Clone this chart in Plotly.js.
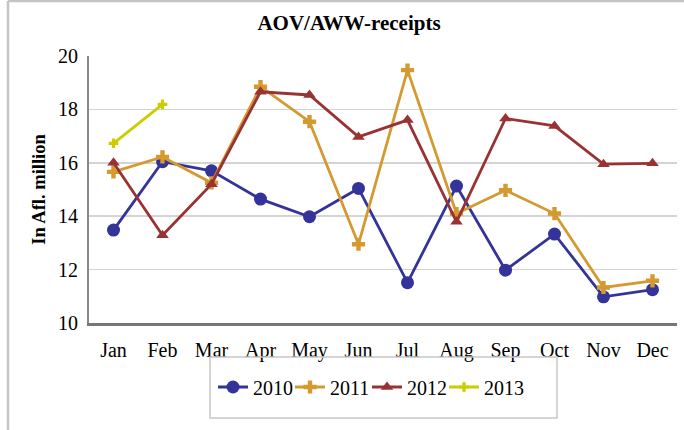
<!DOCTYPE html>
<html>
<head>
<meta charset="utf-8">
<script src="https://cdn.plot.ly/plotly-3.0.1.min.js"></script>
<style>html,body{margin:0;padding:0;background:#fff;}#chart{width:684px;height:430px;}</style>
</head>
<body>
<div id="chart"></div>
<script>
const months = ["Jan","Feb","Mar","Apr","May","Jun","Jul","Aug","Sep","Oct","Nov","Dec"];
const y2010 = [13.48,16.04,15.70,14.64,13.98,15.04,11.51,15.13,11.98,13.33,10.98,11.25];
const y2011 = [15.66,16.22,15.25,18.85,17.54,12.95,19.47,14.10,14.97,14.10,11.33,11.58];
const y2012 = [16.00,13.29,15.20,18.66,18.54,16.97,17.60,13.79,17.66,17.38,15.95,15.98];
const y2013 = [16.73,18.19];
const seriesNames = ["2010","2011","2012","2013"];
const yTicks = [10,12,14,16,18,20];

const serif = "Liberation Serif, Times New Roman, serif";
const traces = [
  {x: months, y: y2010, name: seriesNames[0], mode: "lines+markers", legend: "legend",
   line: {color: "#333399", width: 2.8}, marker: {symbol: "circle", size: 13, color: "#333399"}},
  {x: months, y: y2011, name: seriesNames[1], mode: "lines+markers", legend: "legend2",
   line: {color: "#d49a30", width: 2.8}, marker: {symbol: "cross", size: 11, color: "#d49a30"}},
  {x: months, y: y2012, name: seriesNames[2], mode: "lines+markers", legend: "legend3",
   line: {color: "#993333", width: 2.8}, marker: {symbol: "triangle-up", size: 11, color: "#993333"}},
  {x: months.slice(0, y2013.length), y: y2013, name: seriesNames[3], mode: "lines+markers", legend: "legend4",
   line: {color: "#cccc00", width: 2.8}, marker: {symbol: "cross", size: 8, color: "#cccc00"}}
];

const L = 89, R = 7, T = 56, B = 107;
const W = 684 - L - R, H = 430 - T - B;
const px = v => (v - L) / W;
const py = v => (430 - B - v) / H;

function leg(startX) {
  return {orientation: "h", x: px(startX), xanchor: "left", y: py(387), yanchor: "middle",
          bgcolor: "rgba(0,0,0,0)", borderwidth: 0, font: {family: serif, size: 20}, itemwidth: 30};
}

const layout = {
  width: 684, height: 430,
  margin: {l: L, r: R, t: T, b: B, autoexpand: false},
  paper_bgcolor: "#fff", plot_bgcolor: "#fff",
  font: {family: serif, color: "#000", size: 20},
  title: {text: "<b>AOV/AWW-receipts</b>", font: {family: serif, size: 21, color: "#000"},
          x: 349/684, xref: "container", xanchor: "center", y: 1 - 23/430, yref: "container", yanchor: "middle"},
  xaxis: {type: "category", showgrid: false, showline: true, linecolor: "#777", linewidth: 2.5,
          ticks: "", ticklabelstandoff: 7, tickfont: {family: serif, size: 20}, fixedrange: true,
          range: [-0.5, 11.5]},
  yaxis: {range: [10, 20], tickvals: yTicks, ticktext: yTicks.map(String), showgrid: true,
          gridcolor: "#d4d4d4", gridwidth: 1.5, showline: true, linecolor: "#888", linewidth: 2,
          zeroline: false, ticks: "", ticklabelstandoff: 5, tickfont: {family: serif, size: 20},
          title: {text: "<b>In Afl. million</b>", font: {family: serif, size: 18.5}, standoff: 8}},
  showlegend: true,
  legend: leg(213),
  legend2: leg(290),
  legend3: leg(367),
  legend4: leg(444),
  shapes: [
    {type: "rect", xref: "paper", yref: "paper", x0: px(210), x1: px(557), y0: py(418), y1: py(357),
     line: {color: "#c8c8c8", width: 1.5}},
    {type: "line", xref: "paper", yref: "paper", x0: px(8), x1: px(8), y0: py(1), y1: py(432),
     line: {color: "#c4c4c4", width: 2.5}},
    {type: "line", xref: "paper", yref: "paper", x0: px(8), x1: px(690), y0: py(1), y1: py(1),
     line: {color: "#c4c4c4", width: 2.5}}
  ]
};

Plotly.newPlot("chart", traces, layout, {displayModeBar: false, staticPlot: true});
</script>
</body>
</html>
